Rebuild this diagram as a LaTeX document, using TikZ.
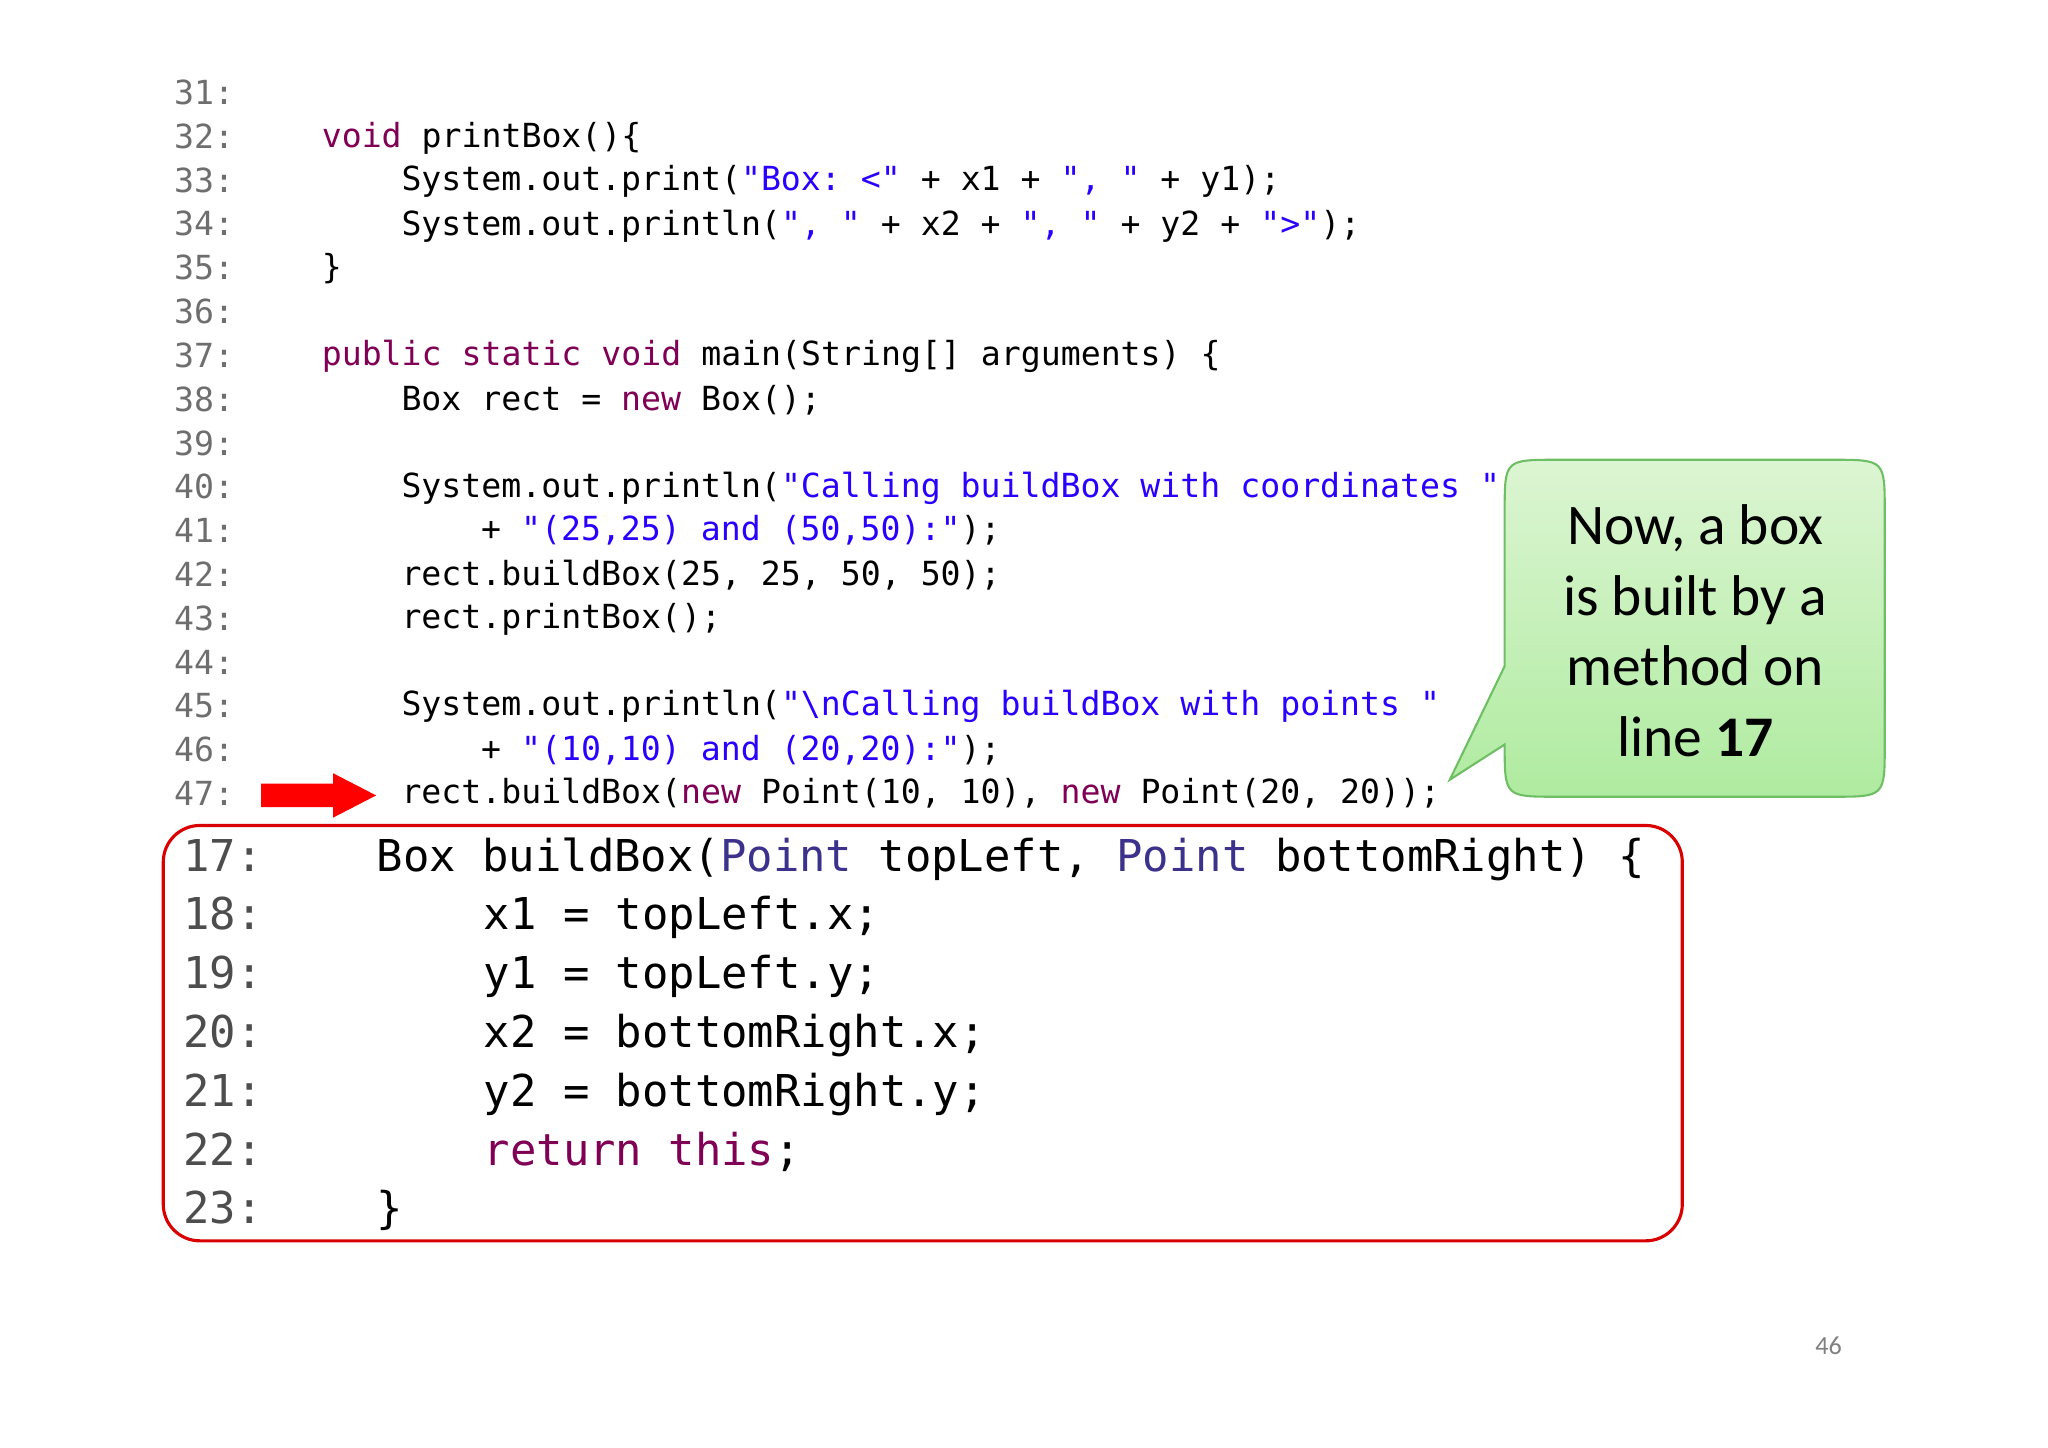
\documentclass[tikz,border=0pt]{standalone}
\usepackage{fontspec}
\setmonofont{DejaVu Sans Mono}
\setmainfont{Carlito}
\definecolor{kw}{RGB}{127,0,85}
\definecolor{st}{RGB}{42,0,255}
\definecolor{ty}{RGB}{60,50,140}
\definecolor{ln}{RGB}{110,110,110}
\definecolor{gtop}{RGB}{220,245,210}
\definecolor{gbot}{RGB}{175,235,160}
\definecolor{gbord}{RGB}{110,190,100}
\newcommand\kw[1]{\textcolor{kw}{#1}}
\newcommand\st[1]{\textcolor{st}{#1}}
\newcommand\ty[1]{\textcolor{ty}{#1}}
\begin{document}
\begin{tikzpicture}[x=0.5pt,y=-0.5pt,
 code/.style={anchor=base west,inner sep=0pt,font=\ttfamily\fontsize{12.7}{14}\selectfont},
 num/.style={code,text=ln},
 big/.style={anchor=base west,inner sep=0pt,font=\ttfamily\fontsize{16.8}{18}\selectfont},
 bnum/.style={big,text=ln!70!black}]
\useasboundingbox (0,0) rectangle (1568,1108);
\fill[white] (0,0) rectangle (1568,1108);
\foreach \i in {31,...,47}{
  \node[num] (n\i) at (133,{80+(\i-31)*33.55}) {\i:};
}
\node[code] (c32) at (246,113) {\kw{void} printBox()\{};
\node[code] (c33) at (307,146) {System.out.print(\st{"Box: <"} + x1 + \st{", "} + y1);};
\node[code] (c34) at (307,180) {System.out.println(\st{", "} + x2 + \st{", "} + y2 + \st{">"});};
\node[code] (c35) at (246,213) {\}};
\node[code] (c37) at (246,280) {\kw{public static void} main(String[] arguments) \{};
\node[code] (c38) at (307,314) {Box rect = \kw{new} Box();};
\node[code] (c40) at (307,381) {System.out.println(\st{"Calling buildBox with coordinates "}};
\node[code] (c41) at (368,414) {+ \st{"(25,25) and (50,50):"});};
\node[code] (c42) at (307,448) {rect.buildBox(25, 25, 50, 50);};
\node[code] (c43) at (307,481) {rect.printBox();};
\node[code] (c45) at (307,548) {System.out.println(\st{"\textbackslash nCalling buildBox with points "}};
\node[code] (c46) at (368,582) {+ \st{"(10,10) and (20,20):"});};
\node[code] (c47) at (307,615) {rect.buildBox(\kw{new} Point(10, 10), \kw{new} Point(20, 20));};
% arrow
\fill[red] (200,600) -- (255,600) -- (255,592) -- (288,609) -- (255,626) -- (255,618) -- (200,618) -- cycle;
% box
\draw[red!85!black,fill=white,line width=1.2pt,rounded corners=14pt] (125,632) rectangle (1288,950);
\foreach \i in {17,...,23}{
  \node[bnum] (b\i) at (140,{667+(\i-17)*45}) {\i:};
}
\node[big] (k17) at (288,667) {Box buildBox(\ty{Point} topLeft, \ty{Point} bottomRight) \{};
\node[big] (k18) at (370,712) {x1 = topLeft.x;};
\node[big] (k19) at (370,757) {y1 = topLeft.y;};
\node[big] (k20) at (370,802) {x2 = bottomRight.x;};
\node[big] (k21) at (370,847) {y2 = bottomRight.y;};
\node[big] (k22) at (370,892) {\kw{return this};};
\node[big] (k23) at (288,937) {\}};
% callout
\shade[top color=gtop,bottom color=gbot,draw=gbord,line width=0.8pt]
 (1152,510) -- (1152,392) .. controls (1152,352) .. (1192,352) -- (1403,352)
 .. controls (1443,352) .. (1443,392) -- (1443,570) .. controls (1443,610) .. (1403,610)
 -- (1192,610) .. controls (1152,610) .. (1152,570) -- (1110,597) -- cycle;
\node[align=center,font=\fontsize{22}{27}\selectfont,inner sep=0pt] (call) at (1298,483)
 {Now, a box\\is built by a\\method on\\line \textbf{17}};
\node[font=\fontsize{10}{12}\selectfont,text=gray] (pg) at (1400,1030) {46};
\end{tikzpicture}
\end{document}
